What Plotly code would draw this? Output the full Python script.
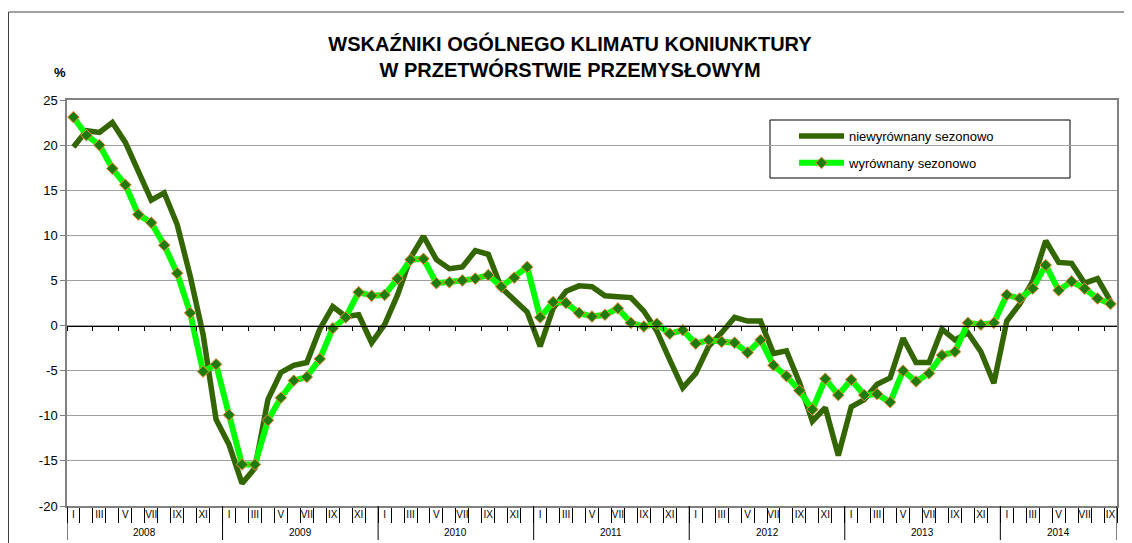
import plotly.graph_objects as go

# ---- data ----
years = [2008, 2009, 2010, 2011, 2012, 2013, 2014]
months_per_year = [12, 12, 12, 12, 12, 12, 9]
roman = ["I", "II", "III", "IV", "V", "VI", "VII", "VIII", "IX", "X", "XI", "XII"]
y_ticks = [-20, -15, -10, -5, 0, 5, 10, 15, 20, 25]

# niewyrównany sezonowo (not seasonally adjusted)
nsa = [
    19.8, 21.6, 21.4, 22.5, 20.3, 17.1, 13.9, 14.7, 11.2, 5.5, -1.0, -10.4,
    -13.2, -17.5, -15.8, -8.2, -5.2, -4.4, -4.1, -0.4, 2.1, 1.0, 1.2, -1.9,
    0.1, 3.4, 7.5, 9.9, 7.3, 6.3, 6.5, 8.3, 7.9, 4.2, 2.9, 1.5,
    -2.3, 1.9, 3.8, 4.4, 4.3, 3.3, 3.2, 3.1, 1.6, -0.6, -3.8, -6.9,
    -5.3, -2.3, -0.8, 0.9, 0.5, 0.5, -3.1, -2.8, -6.3, -10.6, -9.1, -14.4,
    -9.0, -8.2, -6.5, -5.8, -1.4, -4.1, -4.1, -0.4, -1.6, -0.8, -2.9, -6.4,
    0.5, 2.4, 4.9, 9.4, 7.0, 6.9, 4.7, 5.2, 2.7,
]
# wyrównany sezonowo (seasonally adjusted)
sa = [
    23.1, 21.1, 20.0, 17.4, 15.6, 12.3, 11.4, 8.9, 5.8, 1.4, -5.1, -4.3,
    -9.9, -15.4, -15.4, -10.5, -8.0, -6.1, -5.7, -3.7, -0.3, 0.9, 3.7, 3.3,
    3.4, 5.2, 7.3, 7.4, 4.7, 4.8, 5.0, 5.2, 5.6, 4.3, 5.3, 6.5,
    0.9, 2.6, 2.5, 1.4, 1.0, 1.2, 1.9, 0.3, -0.1, 0.2, -0.9, -0.5,
    -2.0, -1.6, -1.8, -1.9, -3.0, -1.6, -4.4, -5.6, -7.2, -9.3, -5.9, -7.7,
    -6.0, -7.7, -7.6, -8.5, -5.0, -6.2, -5.3, -3.3, -2.9, 0.3, 0.1, 0.3,
    3.4, 3.0, 4.1, 6.7, 3.9, 4.9, 4.1, 3.0, 2.4,
]

title_text = "WSKAŹNIKI OGÓLNEGO KLIMATU KONIUNKTURY<br>W PRZETWÓRSTWIE PRZEMYSŁOWYM"
name_nsa = "niewyrównany sezonowo"
name_sa = "wyrównany sezonowo"

# ---- derived category structure ----
categories, month_labels = [], []
year_starts = []
for y, n in zip(years, months_per_year):
    year_starts.append(len(categories))
    for m in range(n):
        categories.append(f"{y}-{m + 1:02d}")
        month_labels.append(roman[m] if m % 2 == 0 else "")
n_cat = len(categories)

FONT = "Arial, Liberation Sans, sans-serif"

# page offset (browser body margin) and geometry in window pixels
OFF = 8
WIN_W, WIN_H = 1132, 543
W, H = WIN_W - OFF, WIN_H - OFF
PL, PR, PT, PB = 67, 1117, 100, 506  # plot area in window pixels
L, R, T, B = PL - OFF, WIN_W - PR, PT - OFF, WIN_H - PB
PW, PH = PR - PL, PB - PT
ymin, ymax = y_ticks[0], y_ticks[-1]


def px_x(px):  # window px -> paper x
    return (px - PL) / PW


def px_y(py):  # window px -> paper y
    return (PB - py) / PH


fig = go.Figure()
fig.add_trace(go.Scatter(
    x=categories, y=nsa, mode="lines", name=name_nsa, legendgroup="a",
    line=dict(color="#336600", width=5.5),
))
fig.add_trace(go.Scatter(
    x=categories, y=sa, mode="lines+markers", name=name_sa, legendgroup="b",
    line=dict(color="#00FF00", width=6),
    marker=dict(symbol="diamond", size=9, color="#1E7B0F",
                line=dict(color="#FF8C3A", width=1)),
))
# carrier for the zero-line axis with small ticks
fig.add_trace(go.Scatter(
    x=categories, y=sa, xaxis="x2", mode="lines", opacity=0,
    line=dict(width=0), showlegend=False, hoverinfo="skip",
))

shapes = []
# outer frame
shapes.append(dict(type="rect", xref="paper", yref="paper",
                   x0=px_x(8.5), x1=px_x(1145), y0=px_y(560), y1=px_y(12),
                   line=dict(color="#404040", width=1), layer="below"))
# legend box
shapes.append(dict(type="rect", xref="paper", yref="paper",
                   x0=px_x(770), x1=px_x(1070), y0=px_y(178), y1=px_y(120),
                   line=dict(color="black", width=1), fillcolor="white",
                   layer="between"))
# year divider lines
bounds = year_starts + [n_cat]
for b in bounds:
    shapes.append(dict(type="line", xref="x", yref="paper",
                       x0=b - 0.5, x1=b - 0.5, y0=0, y1=px_y(540),
                       line=dict(color="black", width=1)))

annotations = []
for y, s, n in zip(years, year_starts, months_per_year):
    annotations.append(dict(x=s + (n - 1) / 2, y=px_y(532), xref="x", yref="paper",
                            text=str(y), showarrow=False, yanchor="middle",
                            font=dict(family=FONT, size=10, color="black")))
annotations.append(dict(x=px_x(60), y=px_y(72), xref="paper", yref="paper", text="%",
                        showarrow=False, xanchor="center", yanchor="middle",
                        font=dict(family=FONT, size=13, color="black", weight="bold")))

fig.update_layout(
    width=W, height=H,
    margin=dict(l=L, r=R, t=T, b=B),
    paper_bgcolor="white", plot_bgcolor="white",
    font=dict(family=FONT, color="black"),
    title=dict(text=title_text, x=(570 - OFF) / W, xref="container", xanchor="center",
               y=1 - (51 - OFF) / H, yref="container", yanchor="middle",
               font=dict(family=FONT, size=20, color="black", weight="bold")),
    showlegend=True,
    legend=dict(x=px_x(794), y=px_y(121), xanchor="left", yanchor="top",
                bgcolor="rgba(0,0,0,0)", borderwidth=0,
                font=dict(family=FONT, size=13, color="black"),
                itemwidth=45, traceorder="grouped", tracegroupgap=7),
    xaxis=dict(type="category", categoryorder="array", categoryarray=categories,
               range=[-0.5, n_cat - 0.5],
               tickmode="array", tickvals=categories, ticktext=month_labels,
               tickson="boundaries", ticks="outside", ticklen=15, tickwidth=1,
               tickcolor="black", ticklabelstandoff=-2, tickangle=0,
               tickfont=dict(family=FONT, size=10, color="black"),
               showline=True, linecolor="#808080", linewidth=1.5, mirror=True,
               showgrid=False, zeroline=False),
    xaxis2=dict(type="category", categoryorder="array", categoryarray=categories,
                range=[-0.5, n_cat - 0.5], overlaying="x", anchor="free",
                position=(0 - ymin) / (ymax - ymin), side="bottom",
                tickson="boundaries", ticks="outside", ticklen=4, tickwidth=1,
                tickcolor="black", showticklabels=False,
                showline=True, linecolor="black", linewidth=1,
                showgrid=False, zeroline=False),
    yaxis=dict(range=[ymin, ymax], tickmode="array", tickvals=y_ticks,
               ticktext=[str(v) for v in y_ticks], showgrid=True,
               gridcolor="#A0A0A0", gridwidth=1.3, zeroline=False,
               ticks="outside", ticklen=5, tickcolor="#808080",
               showline=True, linecolor="#808080", linewidth=1.5, mirror=True,
               tickfont=dict(family=FONT, size=13, color="black")),
    shapes=shapes,
    annotations=annotations,
)

fig.write_html("out.html")
